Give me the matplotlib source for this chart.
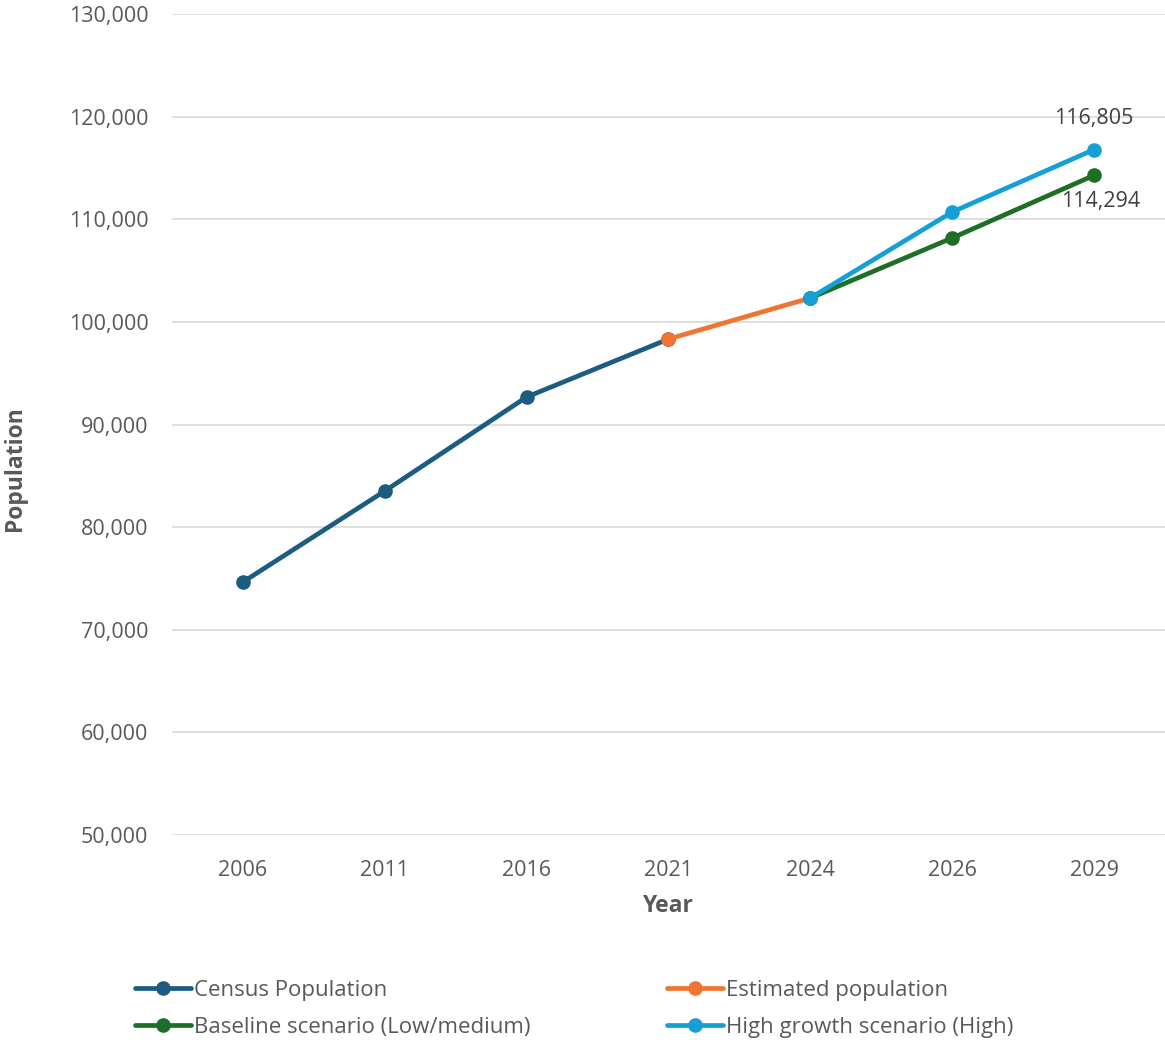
import matplotlib
matplotlib.use("Agg")
import matplotlib.pyplot as plt
import numpy as np
from matplotlib.ticker import FuncFormatter

plt.rcParams["font.family"] = ["Open Sans", "DejaVu Sans"]

years = ["2006", "2011", "2016", "2021", "2024", "2026", "2029"]
nan = np.nan
census = [74660, 83530, 92690, 98340, nan, nan, nan]
estimated = [nan, nan, nan, 98340, 102340, nan, nan]
baseline = [nan, nan, nan, nan, 102340, 108190, 114294]
high = [nan, nan, nan, nan, 102340, 110720, 116805]

series = [
    ("Census Population", census, "#1B5C80"),
    ("Estimated population", estimated, "#EE7532"),
    ("Baseline scenario (Low/medium)", baseline, "#1D6F27"),
    ("High growth scenario (High)", high, "#149FD6"),
]

text_col = "#595959"

fig = plt.figure(figsize=(11.65, 10.4), dpi=100)
ax = fig.add_axes([0.1476, 0.197, 0.8524, 0.7894])

x = np.arange(len(years))
lines = []
for name, vals, col in series:
    ln, = ax.plot(x, vals, color=col, lw=3.4, marker="o", ms=9.5, label=name,
                  solid_capstyle="round")
    lines.append(ln)

ax.annotate("116,805", (6, high[6]), xytext=(0, 15), textcoords="offset points",
            ha="center", va="bottom", fontsize=15.5, color="#404040")
ax.annotate("114,294", (6, baseline[6]), xytext=(5, -11), textcoords="offset points",
            ha="center", va="top", fontsize=15.5, color="#404040")

ax.set_xlim(-0.5, 6.5)
ax.set_ylim(50000, 130000)
ax.set_yticks(np.arange(50000, 130001, 10000))
ax.yaxis.set_major_formatter(FuncFormatter(lambda v, p: f"{v:,.0f}"))
ax.set_xticks(x)
ax.set_xticklabels(years)
ax.grid(axis="y", color="#D9D9D9", lw=1.2)
ax.set_axisbelow(True)
for s in ax.spines.values():
    s.set_visible(False)
ax.tick_params(length=0, labelsize=15.5, colors=text_col)
ax.tick_params(axis="x", pad=18)
ax.tick_params(axis="y", pad=17)

ax.set_xlabel("Year", fontsize=16.5, fontweight="bold", color=text_col, va="center")
ax.set_ylabel("Population", fontsize=16.5, fontweight="bold", color=text_col, va="center")
ax.xaxis.set_label_coords(0.4995, -0.086)
ax.yaxis.set_label_coords(-0.158, 0.447)

leg_kw = dict(frameon=False, fontsize=16, labelcolor=text_col, handlelength=2.5,
              handletextpad=0.15, labelspacing=0.7, borderpad=0, borderaxespad=0)
fig.legend(handles=[lines[0], lines[2]], loc="center left",
           bbox_to_anchor=(135 / 1165, 1 - 1009 / 1040), **leg_kw)
fig.legend(handles=[lines[1], lines[3]], loc="center left",
           bbox_to_anchor=(667 / 1165, 1 - 1009 / 1040), **leg_kw)

fig.savefig("out.png", dpi=100)
